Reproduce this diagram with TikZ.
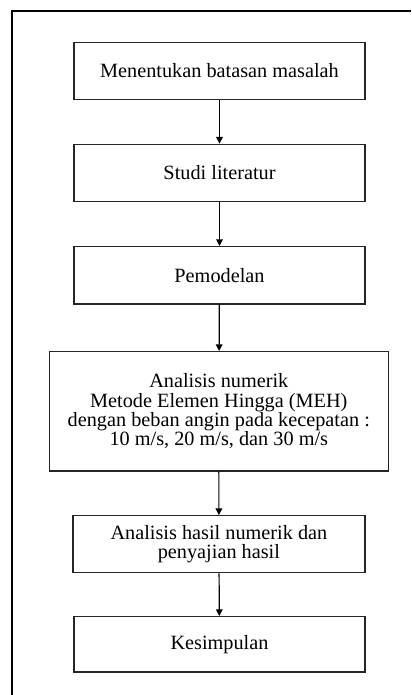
\documentclass[tikz,border=0pt]{standalone}
\usepackage{fontspec}
\setmainfont{Liberation Serif}
\usetikzlibrary{arrows.meta}
\begin{document}
\begin{tikzpicture}[x=0.75pt,y=-0.75pt,
  stepbox/.style={draw=black!85,line width=1pt,inner sep=0pt,align=center,
    font=\fontsize{15.2pt}{14.5pt}\selectfont},
  conn/.style={draw=black,line width=0.9pt,-{Triangle[width=5pt,length=5pt]}}]
\useasboundingbox (0,0) rectangle (411,695);
\fill[white] (0,0) rectangle (411,695);
\draw[line width=1.2pt] (12,695) -- (12,11) -- (411,11);
\node[stepbox,minimum width=218.25pt,minimum height=42.5pt] (b1) at (219.5,71) {Menentukan batasan masalah};
\node[stepbox,minimum width=218.25pt,minimum height=43pt] (b2) at (219.5,173) {Studi literatur};
\node[stepbox,minimum width=218.25pt,minimum height=43pt] (b3) at (219.5,275.3) {Pemodelan};
\node[stepbox,minimum width=254.25pt,minimum height=89.5pt] (b4) at (218.8,411.3) {Analisis numerik\\Metode Elemen Hingga (MEH)\\dengan beban angin pada kecepatan :\\10 m/s, 20 m/s, dan 30 m/s};
\node[stepbox,minimum width=219pt,minimum height=42.75pt] (b5) at (218.9,544.2) {Analisis hasil numerik dan\\penyajian hasil};
\node[stepbox,minimum width=218.25pt,minimum height=41.5pt] (b6) at (219.5,644.3) {Kesimpulan};
\draw[conn] (b1) -- (b2);
\draw[conn] (b2) -- (b3);
\draw[conn] (b3) -- (b4);
\draw[conn] (b4) -- (b5);
\draw[conn] (b5) -- (b6);
\end{tikzpicture}
\end{document}
